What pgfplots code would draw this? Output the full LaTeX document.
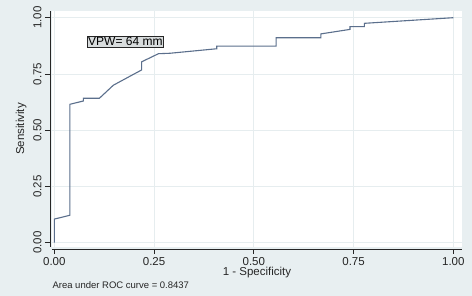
\documentclass[border=0pt]{standalone}
\usepackage{pgfplots}
\pgfplotsset{compat=1.18}
\usepackage{fontspec}
\setmainfont{Liberation Sans}
\definecolor{bgc}{HTML}{E8EFF1}
\definecolor{gridc}{HTML}{E6EDEF}
\definecolor{curvec}{HTML}{5B6F8C}
\definecolor{boxc}{HTML}{D8DCDD}
\begin{document}
\begin{tikzpicture}
\fill[bgc] (0,0) rectangle (472pt,296pt);
\begin{axis}[
  at={(52pt,49pt)}, anchor=south west,
  scale only axis, width=410pt, height=236pt,
  xmin=-0.0058, xmax=1.0218, ymin=-0.019, ymax=1.0298,
  axis background/.style={fill=white},
  axis x line*=bottom, axis y line*=left,
  axis x line shift=2pt, axis y line shift=2pt,
  axis line style={-, black!85, line width=0.8pt},
  xtick={0,0.25,0.5,0.75,1}, ytick={0,0.25,0.5,0.75,1},
  xticklabels={0.00,0.25,0.50,0.75,1.00},
  yticklabels={0.00,0.25,0.50,0.75,1.00},
  tick align=outside, major tick length=5pt,
  tick style={black!85, line width=0.8pt},
  grid=major, grid style={gridc, line width=0.9pt},
  ticklabel style={font=\fontsize{11.5}{13}\selectfont, text=black!85},
  y tick label style={rotate=90, anchor=south},
  xlabel={1 - Specificity}, ylabel={Sensitivity},
  label style={font=\fontsize{11.5}{13}\selectfont, text=black!85},
  xlabel style={yshift=5pt},
  clip=false,
]
\addplot[curvec, line width=1.1pt] coordinates {
(0,0) (0,0.105) (0.039,0.122) (0.039,0.615) (0.073,0.63) (0.073,0.642)
(0.113,0.642) (0.148,0.70) (0.219,0.768) (0.219,0.804) (0.261,0.84)
(0.29,0.842) (0.407,0.862) (0.407,0.874) (0.556,0.874) (0.556,0.911)
(0.668,0.911) (0.668,0.928) (0.741,0.948) (0.741,0.96) (0.777,0.96)
(0.777,0.975) (1,1)
};
\node[draw=black!85, fill=boxc, inner sep=1pt, anchor=west,
  font=\fontsize{12}{13}\selectfont] at (axis cs:0.082,0.894) {VPW= 64 mm};
\end{axis}
\node[anchor=west, font=\fontsize{9.5}{11}\selectfont, text=black!85] at (49pt,11pt) {Area under ROC curve = 0.8437};
\end{tikzpicture}
\end{document}
